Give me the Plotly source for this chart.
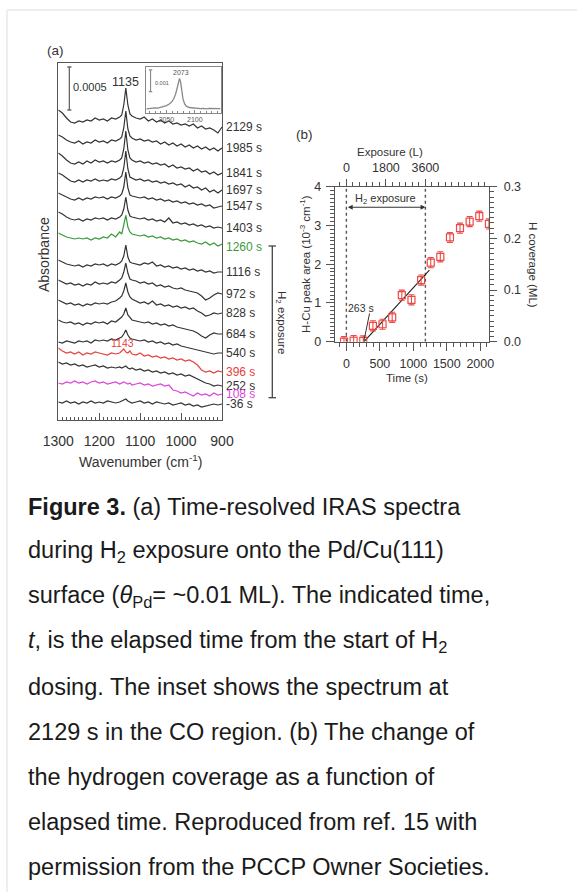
import plotly.graph_objects as go

# ---------------- data ----------------
WAVENUMBER = [1300, 1290, 1280, 1270, 1260, 1250, 1240, 1230, 1220, 1210, 1200, 1190, 1180,
              1170, 1160, 1150, 1145, 1140, 1135, 1130, 1125, 1120, 1110, 1100, 1090, 1080,
              1070, 1060, 1050, 1040, 1030, 1020, 1010, 1000, 990, 980, 970, 960, 950, 940,
              930, 920, 910, 900]

TIMES = [2129, 1985, 1841, 1697, 1547, 1403, 1260, 1116, 972, 828, 684, 540, 396, 252, 108, -36]
TIME_LABELS = ["2129 s", "1985 s", "1841 s", "1697 s", "1547 s", "1403 s", "1260 s", "1116 s",
               "972 s", "828 s", "684 s", "540 s", "396 s", "252 s", "108 s", "-36 s"]
# vertical offsets of each spectrum (arb. absorbance units, 43 units = 0.0005)
OFFSETS = [293, 272, 247, 230, 214, 192, 173, 148, 126, 107, 86, 67, 48, 34, 26, 16]

SPECTRA = [
    [17,14,9,5,4,6,5,7,6,9,7,8,6,9,8,10,12,22,39,22,13,11,9,8,10,6,8,5,7,4,6,3,4,2,3,1,3,-1,1,-2,-1,-3,-6,0],
    [13,11,8,6,5,7,4,6,5,8,6,7,5,8,7,9,11,20,37,19,12,10,8,9,7,8,6,7,4,6,3,5,2,4,1,3,0,2,-1,1,-2,0,-3,0],
    [20,17,13,10,9,11,9,12,10,13,11,12,10,12,11,13,15,24,42,23,15,13,11,12,10,11,9,10,8,9,6,8,5,6,4,5,2,4,1,2,-1,1,-2,0],
    [17,15,12,9,8,10,8,10,9,11,9,10,9,11,10,12,14,22,39,21,13,12,10,11,9,10,8,9,7,8,6,7,5,6,3,5,2,3,0,2,-2,0,-3,0],
    [13,11,9,7,6,8,6,8,7,9,8,9,7,9,8,10,12,19,34,18,11,10,9,8,9,7,8,6,7,5,6,4,5,3,4,2,3,1,2,0,1,-2,-1,0],
    [16,14,11,9,8,9,7,9,8,10,9,10,8,10,9,11,13,19,31,18,12,11,10,9,10,8,9,7,8,6,10,5,6,4,5,3,4,2,3,1,2,0,1,0],
    [14,12,10,9,8,9,8,9,7,9,8,10,9,13,10,15,13,22,32,20,15,13,12,11,12,10,11,9,10,8,9,7,8,6,7,5,6,4,3,5,2,4,1,3],
    [12,10,8,7,6,7,5,7,6,8,7,8,6,8,7,9,11,16,27,15,10,9,8,7,9,8,10,6,7,5,6,4,5,3,4,2,3,1,2,0,1,-1,0,0],
    [14,12,10,11,9,10,8,10,9,12,10,11,10,12,11,14,16,22,31,21,15,14,13,11,12,10,11,8,9,7,8,6,5,6,4,3,2,1,-2,-6,-4,-1,1,0],
    [13,11,9,10,8,9,7,9,8,10,9,10,9,11,12,15,17,22,30,21,16,14,12,10,11,9,12,8,9,7,8,6,7,5,6,4,5,2,0,-3,-2,0,-1,0],
    [14,12,11,12,10,11,9,11,10,12,11,12,10,13,12,15,17,20,26,19,16,14,13,12,11,12,10,11,9,10,8,9,7,6,5,4,3,1,-2,-4,-1,1,0,0],
    [11,10,12,11,10,12,11,12,10,13,12,13,12,14,13,15,16,19,23,18,15,14,13,12,13,11,12,10,11,9,10,8,9,7,6,5,4,3,2,1,0,-1,0,0],
    [24,21,19,20,18,20,17,19,18,20,19,18,17,19,18,19,21,23,20,19,21,18,17,19,16,17,15,16,14,15,13,14,12,13,11,12,10,7,2,0,1,-1,1,0],
    [24,22,23,21,22,20,21,19,20,21,19,20,18,19,18,19,18,19,20,18,17,18,16,17,15,16,14,15,13,14,12,13,11,12,10,11,9,7,5,3,2,0,1,0],
    [11,10,12,11,13,11,12,10,12,13,11,12,10,11,12,10,11,12,11,10,11,9,10,11,9,10,8,9,10,8,9,4,3,1,2,0,-2,1,-1,0,-2,1,-1,0],
    [2,1,3,1,2,0,2,1,3,1,2,1,3,2,1,2,3,4,5,3,2,1,2,3,1,2,0,2,1,0,1,-1,0,1,-1,0,-2,-1,-3,-2,-1,0,-1,0],
]
SPECTRUM_COLORS = ["#333333"] * 6 + ["#3a9a3a"] + ["#333333"] * 5 + ["#e8403c", "#333333", "#dd44dd", "#333333"]

# inset: CO region of the 2129 s spectrum (10^-3 absorbance)
INSET_WN = [2015, 2020, 2025, 2030, 2035, 2040, 2045, 2050, 2055, 2060, 2063, 2066, 2069, 2071,
            2073, 2075, 2077, 2079, 2082, 2085, 2090, 2095, 2100, 2105, 2110, 2115, 2120, 2125,
            2130, 2135, 2140, 2145]
INSET_ABS = [0.18, 0.20, 0.19, 0.22, 0.21, 0.25, 0.28, 0.33, 0.40, 0.52, 0.65, 0.85, 1.15, 1.45,
             1.58, 1.40, 1.00, 0.65, 0.40, 0.30, 0.24, 0.22, 0.20, 0.21, 0.19, 0.20, 0.18, 0.20,
             0.19, 0.18, 0.20, 0.19]

# panel (b): H-Cu peak area vs elapsed time
PEAK_AREA = [3.04, 3.24, 3.10, 2.93, 2.69, 2.19, 2.04, 1.59, 1.08, 1.20, 0.63, 0.45, 0.41, 0.02, 0.03, 0.0]
PEAK_ERR = [0.13] * 16
FIT_T = [263, 1240]
FIT_AREA = [0.0, 1.85]
EXPOSURE_WINDOW_S = [0, 1180]
EXPOSURE_END_L = 3600
AREA_PER_COVERAGE = 4 / 0.3

# ---------------- layout helpers ----------------
W, H = 577, 892
FONT = "Arial, 'Liberation Sans', sans-serif"
TXT = "#333333"


def px(x):
    return x / W


def py(y):
    return 1 - y / H


fig = go.Figure()

# spectra
for vals, off, col in zip(SPECTRA, OFFSETS, SPECTRUM_COLORS):
    fig.add_trace(go.Scatter(x=WAVENUMBER, y=[v + off for v in vals], mode="lines",
                             line=dict(color=col, width=1.2), xaxis="x", yaxis="y",
                             hoverinfo="skip", showlegend=False))

# inset
fig.add_trace(go.Scatter(x=INSET_WN, y=INSET_ABS, mode="lines", line=dict(color="#888888", width=1.3),
                         xaxis="x2", yaxis="y2", hoverinfo="skip", showlegend=False))

# panel b
for t in EXPOSURE_WINDOW_S:
    fig.add_trace(go.Scatter(x=[t, t], y=[0, 4], mode="lines", line=dict(color="#555555", width=1.4, dash="dot"),
                             xaxis="x3", yaxis="y3", hoverinfo="skip", showlegend=False))
fig.add_trace(go.Scatter(x=FIT_T, y=FIT_AREA, mode="lines", line=dict(color="#222222", width=1.1),
                         xaxis="x3", yaxis="y3", hoverinfo="skip", showlegend=False))
fig.add_trace(go.Scatter(x=TIMES, y=PEAK_AREA, mode="markers",
                         marker=dict(symbol="square-open", size=7, color="#ec4a46", line=dict(width=1.2, color="#ec4a46")),
                         error_y=dict(type="data", array=PEAK_ERR, color="#ec4a46", thickness=1.1, width=3),
                         xaxis="x3", yaxis="y3", hoverinfo="skip", showlegend=False))
# coverage axis / exposure axis carriers (invisible)
fig.add_trace(go.Scatter(x=TIMES, y=[a / AREA_PER_COVERAGE for a in PEAK_AREA], mode="markers",
                         marker=dict(opacity=0), xaxis="x3", yaxis="y4", hoverinfo="skip", showlegend=False))
EXPO_PER_S = EXPOSURE_END_L / EXPOSURE_WINDOW_S[1]
fig.add_trace(go.Scatter(x=[t * EXPO_PER_S for t in TIMES], y=PEAK_AREA, mode="markers",
                         marker=dict(opacity=0), xaxis="x4", yaxis="y3", hoverinfo="skip", showlegend=False))
# 263 s pointer
fig.add_trace(go.Scatter(x=[346, 263], y=[0.73, 0.03], mode="lines", line=dict(color="#333333", width=1),
                         xaxis="x3", yaxis="y3", hoverinfo="skip", showlegend=False))

TRANGE = [-170, 2130]
ax_common = dict(showgrid=False, zeroline=False, linecolor="#555555", linewidth=1.4, automargin=False)

fig.update_layout(
    width=W, height=H, autosize=False,
    margin=dict(l=0, r=0, t=0, b=0, pad=0, autoexpand=False),
    paper_bgcolor="white", plot_bgcolor="white",
    font=dict(family=FONT, color=TXT),
    xaxis=dict(domain=[px(58.3), px(222)], range=[1300, 900], anchor="y", showline=True, mirror=True,
               ticks="inside", ticklen=7, tickcolor="#555555", dtick=100, tick0=0,
               minor=dict(ticks="inside", ticklen=3, dtick=10, tickcolor="#555555"),
               tickfont=dict(size=14, color=TXT), ticklabelstandoff=8, **ax_common),
    yaxis=dict(domain=[py(420), py(63)], range=[0, 357], anchor="x", showline=True, mirror=True,
               showticklabels=False, ticks="", **ax_common),
    xaxis2=dict(domain=[px(146), px(221)], range=[2014, 2146], anchor="y2", showline=True, mirror=True,
                ticks="inside", ticklen=3, tickvals=[2050, 2100], tickcolor="#888888",
                minor=dict(ticks="inside", ticklen=2, dtick=10, tick0=2000, tickcolor="#888888"),
                tickfont=dict(size=7, color="#555555"), showgrid=False, zeroline=False,
                linecolor="#888888", linewidth=1.2, automargin=False),
    yaxis2=dict(domain=[py(112.7), py(67.3)], range=[0, 2.09], anchor="x2", showline=True, mirror=True,
                showticklabels=False, ticks="", showgrid=False, zeroline=False,
                linecolor="#888888", linewidth=1.2, automargin=False),
    xaxis3=dict(domain=[px(335), px(489)], range=TRANGE, anchor="y3", showline=True,
                ticks="outside", ticklen=8, dtick=500, tick0=0, tickcolor="#555555",
                minor=dict(ticks="outside", ticklen=4, dtick=100, tick0=0, tickcolor="#555555"),
                tickfont=dict(size=12.5, color=TXT), ticklabelstandoff=2, **ax_common),
    yaxis3=dict(domain=[py(341.7), py(186.7)], range=[0, 4], anchor="x3", showline=True,
                ticks="outside", ticklen=8, dtick=1, tick0=0, tickcolor="#555555",
                minor=dict(ticks="outside", ticklen=4, dtick=0.1, tick0=0, tickcolor="#555555"),
                tickfont=dict(size=12.5, color=TXT), ticklabelstandoff=2, **ax_common),
    yaxis4=dict(overlaying="y3", side="right", range=[0, 0.3], anchor="x3", showline=True,
                ticks="outside", ticklen=7, dtick=0.1, tick0=0, tickformat=".1f", tickcolor="#555555",
                minor=dict(ticks="outside", ticklen=4, dtick=0.01, tick0=0, tickcolor="#555555"),
                tickfont=dict(size=12.5, color=TXT), ticklabelstandoff=4, **ax_common),
    xaxis4=dict(overlaying="x3", side="top", range=[TRANGE[0] * EXPO_PER_S, TRANGE[1] * EXPO_PER_S],
                anchor="y3", showline=True, ticks="outside", ticklen=7, tickvals=[0, 1800, 3600],
                tickcolor="#555555",
                minor=dict(ticks="outside", ticklen=4, dtick=300, tick0=0, tickcolor="#555555"),
                tickfont=dict(size=12.5, color=TXT), ticklabelstandoff=2, **ax_common),
)

ann = []


def txt(x, y, s, size=12, color=TXT, angle=0, xanchor="center", yanchor="middle", **kw):
    ann.append(dict(x=px(x), y=py(y), xref="paper", yref="paper", text=s, showarrow=False,
                    font=dict(size=size, color=color, family=FONT), textangle=angle,
                    xanchor=xanchor, yanchor=yanchor, **kw))


# panel (a) texts
txt(55, 50, "(a)", 13.5)
txt(44, 255, "Absorbance", 14, angle=-90)
txt(140, 461, "Wavenumber (cm<sup>-1</sup>)", 14)
label_colors = {"1260 s": "#3a9a3a", "396 s": "#e8403c", "108 s": "#dd44dd"}
for lab, off in zip(TIME_LABELS, OFFSETS):
    ann.append(dict(x=px(224), y=off, xref="paper", yref="y", text=lab, showarrow=False,
                    font=dict(size=12, color=label_colors.get(lab, TXT), family=FONT),
                    xanchor="left", yanchor="middle"))
ann.append(dict(x=1135, y=338, xref="x", yref="y", text="1135", showarrow=False,
                font=dict(size=12.5, color=TXT, family=FONT), xanchor="center", yanchor="middle"))
ann.append(dict(x=1143, y=77, xref="x", yref="y", text="1143", showarrow=False,
                font=dict(size=10.5, color="#e8403c", family=FONT), xanchor="center", yanchor="middle"))
ann.append(dict(x=1222, y=333, xref="x", yref="y", text="0.0005", showarrow=False,
                font=dict(size=11, color=TXT, family=FONT), xanchor="center", yanchor="middle"))
# inset texts
ann.append(dict(x=2076, y=1.84, xref="x2", yref="y2", text="2073", showarrow=False,
                font=dict(size=7, color="#555555", family=FONT), xanchor="center", yanchor="middle"))
ann.append(dict(x=2026, y=1.38, xref="x2", yref="y2", text="0.001", showarrow=False,
                font=dict(size=5.5, color="#555555", family=FONT), xanchor="left", yanchor="middle"))
# H2 exposure bracket label (panel a)
txt(281, 322, "H<sub>2</sub> exposure", 11.5, angle=90)

# panel (b) texts
txt(304, 135, "(b)", 13.5)
txt(390, 152, "Exposure (L)", 11.5)
txt(407, 378, "Time (s)", 11.5)
txt(305, 264, "H-Cu peak area (10<sup>-3</sup> cm<sup>-1</sup>)", 11.5, angle=-90)
txt(533, 265, "H coverage (ML)", 11.5, angle=90)
ann.append(dict(x=224, y=0.86, xref="x3", yref="y3", text="263 s", showarrow=False,
                font=dict(size=10.5, color=TXT, family=FONT), xanchor="center", yanchor="middle"))
ann.append(dict(x=EXPOSURE_WINDOW_S[1], y=3.47, ax=EXPOSURE_WINDOW_S[0], ay=3.47, xref="x3", yref="y3",
                axref="x3", ayref="y3", text="", showarrow=True, arrowhead=2, arrowside="end+start",
                arrowsize=0.8, arrowwidth=1.2, arrowcolor="#333333"))
ann.append(dict(x=sum(EXPOSURE_WINDOW_S) / 2, y=3.67, xref="x3", yref="y3", text="H<sub>2</sub> exposure",
                showarrow=False, font=dict(size=11, color=TXT, family=FONT), xanchor="center", yanchor="middle"))

# caption
CAPTION = [
    "<b>Figure 3.</b> (a) Time-resolved IRAS spectra",
    "during H<sub>2</sub> exposure onto the Pd/Cu(111)",
    "surface (<i>θ</i><sub>Pd</sub>= ~0.01 ML). The indicated time,",
    "<i>t</i>, is the elapsed time from the start of H<sub>2</sub>",
    "dosing. The inset shows the spectrum at",
    "2129 s in the CO region. (b) The change of",
    "the hydrogen coverage as a function of",
    "elapsed time. Reproduced from ref. 15 with",
    "permission from the PCCP Owner Societies.",
]
for i, line in enumerate(CAPTION):
    txt(26, 506.5 + 45 * i, line, 23.5, color="#1a1a1a", xanchor="left")

fig.update_layout(annotations=ann)

# decorative shapes: card border, scale bars, exposure bracket
shapes = [
    dict(type="line", xref="paper", yref="paper", x0=px(7), x1=1, y0=py(10), y1=py(10),
         line=dict(color="#eeeeee", width=2)),
    dict(type="line", xref="paper", yref="paper", x0=px(7), x1=px(7), y0=py(10), y1=0,
         line=dict(color="#eeeeee", width=2)),
    # 0.0005 scale bar
    dict(type="line", xref="x", yref="y", x0=1273, x1=1273, y0=310, y1=353, line=dict(color="#666666", width=1.3)),
    dict(type="line", xref="x", yref="y", x0=1278, x1=1268, y0=310, y1=310, line=dict(color="#666666", width=1.3)),
    dict(type="line", xref="x", yref="y", x0=1278, x1=1268, y0=353, y1=353, line=dict(color="#666666", width=1.3)),
    # 0.001 inset scale bar
    dict(type="line", xref="x2", yref="y2", x0=2022, x1=2022, y0=0.97, y1=1.97, line=dict(color="#888888", width=1.1)),
    dict(type="line", xref="x2", yref="y2", x0=2019, x1=2025, y0=0.97, y1=0.97, line=dict(color="#888888", width=1.1)),
    dict(type="line", xref="x2", yref="y2", x0=2019, x1=2025, y0=1.97, y1=1.97, line=dict(color="#888888", width=1.1)),
    # H2 exposure bracket (panel a)
    dict(type="line", xref="paper", yref="paper", x0=px(272.3), x1=px(272.3), y0=py(246), y1=py(397.7),
         line=dict(color="#444444", width=1.3)),
    dict(type="line", xref="paper", yref="paper", x0=px(268.5), x1=px(276), y0=py(246), y1=py(246),
         line=dict(color="#444444", width=1.3)),
    dict(type="line", xref="paper", yref="paper", x0=px(268.5), x1=px(276), y0=py(397.7), y1=py(397.7),
         line=dict(color="#444444", width=1.3)),
]
fig.update_layout(shapes=shapes)

fig.write_html("out.html", config={"displayModeBar": False},
               post_script="document.body.style.margin='0px';")
